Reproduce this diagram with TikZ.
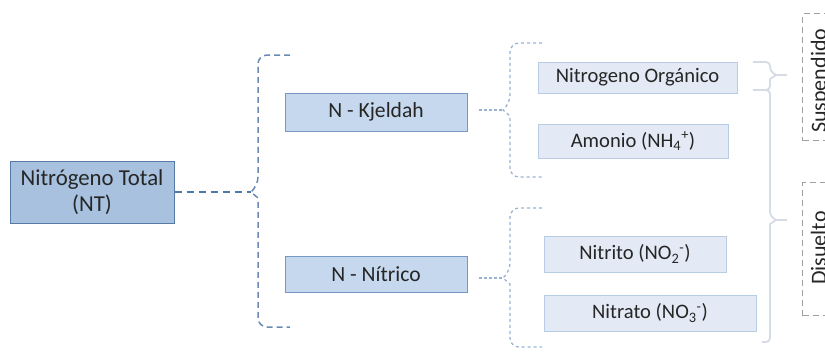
\documentclass[tikz,border=0pt]{standalone}
\usepackage{fontspec}
\setmainfont{Carlito}
\begin{document}
\begin{tikzpicture}[x=1pt,y=-1pt,
  every node/.style={inner sep=0pt, text=black!85},
  ntbox/.style={draw=ntline, fill=ntfill, line width=1pt, minimum width=164pt, minimum height=62pt,
    align=center, font=\fontsize{22.8}{26}\selectfont},
  midbox/.style={draw=midline, fill=midfill, line width=1pt, minimum width=182pt,
    font=\fontsize{21.6}{25}\selectfont},
  leafbox/.style={draw=leafline, fill=leaffill, line width=1pt,
    font=\fontsize{20.6}{24}\selectfont},
  tagbox/.style={draw=tagline, dash pattern=on 6pt off 4pt, line width=1pt, anchor=north west, minimum width=50pt},
  tagtext/.style={rotate=90, anchor=base west, font=\fontsize{22}{26}\selectfont},
  mainlink/.style={draw=linkdark, line width=2.2pt, dash pattern=on 7pt off 5pt},
  mainbrace/.style={draw=linkmid, line width=1.5pt, dash pattern=on 6pt off 4pt},
  sublink/.style={draw=linklight, line width=2pt, dash pattern=on 3pt off 2pt},
  subbrace/.style={draw=linklight, line width=1.3pt, dash pattern=on 3pt off 3pt},
  groupbrace/.style={draw=greybrace, line width=1.8pt},
]
\definecolor{ntfill}{HTML}{A8C1DF}
\definecolor{ntline}{HTML}{5779A6}
\definecolor{midfill}{HTML}{C6D8ED}
\definecolor{midline}{HTML}{7898C4}
\definecolor{leaffill}{HTML}{E3EAF5}
\definecolor{leafline}{HTML}{B8CCE6}
\definecolor{tagline}{HTML}{A0A0A0}
\definecolor{linkdark}{HTML}{4F77A8}
\definecolor{linkmid}{HTML}{6A8AB3}
\definecolor{linklight}{HTML}{9BB3D3}
\definecolor{greybrace}{HTML}{D5DCE6}

\useasboundingbox (0,0) rectangle (825,351);
\clip (0,0) rectangle (825,351);

% boxes
\node[ntbox] (nt) at (92,192) {Nitrógeno Total\\(NT)};
\node[midbox, minimum height=38pt] (kj) at (376,112) {N - Kjeldah};
\node[midbox, minimum height=36pt] (nn) at (376,274) {N - Nítrico};
\node[leafbox, minimum width=199pt, minimum height=31pt] (org) at (637.5,77.5) {Nitrogeno Orgánico};
\node[leafbox, minimum width=190pt, minimum height=34pt] (amo) at (633,141) {Amonio (NH\textsubscript{4}\textsuperscript{+})};
\node[leafbox, minimum width=182pt, minimum height=36pt] (nit) at (635,254) {Nitrito (NO\textsubscript{2}\textsuperscript{-})};
\node[leafbox, minimum width=212pt, minimum height=36pt] (nat) at (650,313) {Nitrato (NO\textsubscript{3}\textsuperscript{-})};

% group labels
\node[tagbox, minimum height=127pt] (susp) at (802,13) {};
\node[tagbox, minimum height=133pt] (dis) at (802,182) {};
\node[tagtext] (susptext) at (826,133) {Suspendido};
\node[tagtext] (distext) at (826,285) {Disuelto};

% brace tips
\coordinate (tipA) at (251,192);
\coordinate (tipK) at (503,110);
\coordinate (tipN) at (503,278);
\coordinate (tipS) at (776,75);
\coordinate (tipD) at (776,220);

% first level
\draw[mainlink] (nt.east |- tipA) -- (tipA);
\draw[mainbrace, rounded corners=9pt] (290,55) -- (258,55) -- (258,186)
  [sharp corners] -- (tipA) -- (258,198) [rounded corners=9pt] -- (258,327) -- (290,327);

% second level
\draw[sublink, shorten <=11pt] (kj.east |- tipK) -- (tipK);
\draw[subbrace, rounded corners=9pt] (542,43) -- (510,43) -- (510,104)
  [sharp corners] -- (tipK) -- (510,116) [rounded corners=9pt] -- (510,177) -- (542,177);
\draw[sublink, shorten <=11pt] (nn.east |- tipN) -- (tipN);
\draw[subbrace, rounded corners=9pt] (542,208) -- (510,208) -- (510,272)
  [sharp corners] -- (tipN) -- (510,284) [rounded corners=9pt] -- (510,347) -- (542,347);

% grouping braces
\draw[groupbrace, rounded corners=4pt] (753,62) -- (770,62) -- (770,71)
  [sharp corners] -- (tipS) -- (770,79) [rounded corners=4pt] -- (770,90) -- (753,90);
\draw[groupbrace] (tipS) -- (787,75);
\draw[groupbrace, rounded corners=4pt] (753,90) -- (770,90) -- (770,216)
  [sharp corners] -- (tipD) -- (770,224) [rounded corners=4pt] -- (770,342) -- (762,342);
\draw[groupbrace] (tipD) -- (787,220);
\end{tikzpicture}
\end{document}
